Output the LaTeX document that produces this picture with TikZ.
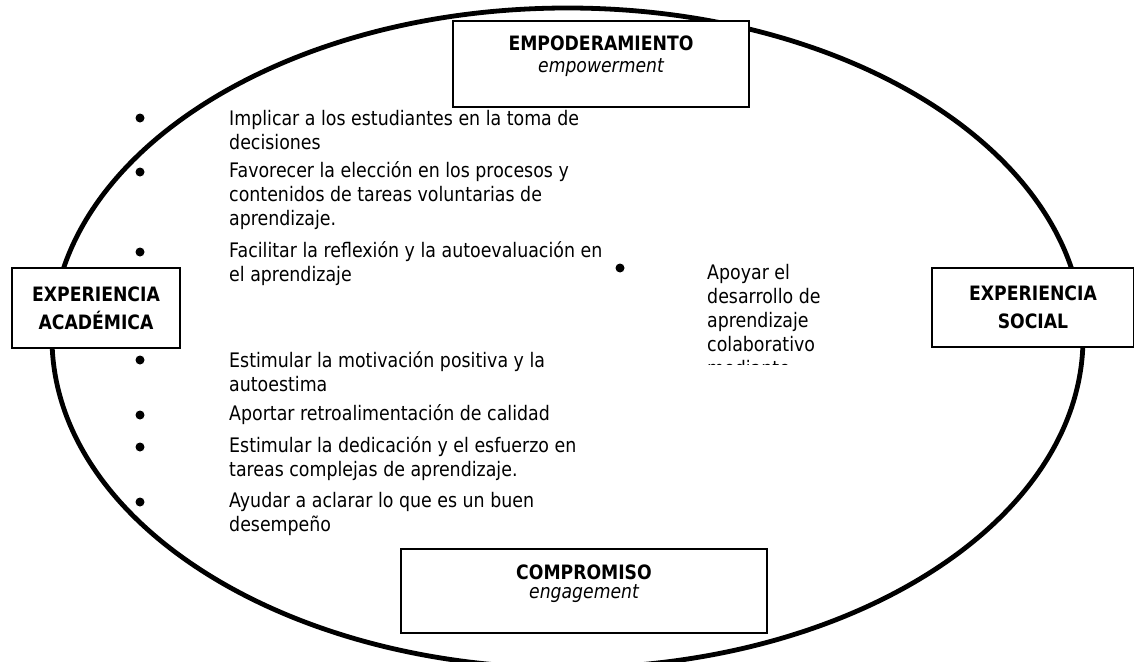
\documentclass[tikz,border=0pt]{standalone}
\usepackage{fontspec}
\setmainfont{DejaVu Sans}[FakeStretch=0.87]
\begin{document}
\begin{tikzpicture}[x=1pt,y=-1pt,
  txt/.style={inner sep=0pt,anchor=west,align=left,font=\fontsize{20}{24}\selectfont},
  title/.style={draw,line width=1.8pt,fill=white,inner sep=0pt,align=center,font=\fontsize{19.8}{28}\selectfont\bfseries},
  labb/.style={inner sep=0pt,font=\fontsize{19.8}{24}\selectfont\bfseries},
  labi/.style={inner sep=0pt,font=\fontsize{19.8}{24}\selectfont\itshape},
  bul/.style={circle,fill=black,inner sep=0pt,minimum size=9pt}]
\useasboundingbox (0,0) rectangle (1134,661);
\draw[line width=4.8pt] (567.5,338) ellipse [x radius=515.5, y radius=330];
% boxes
\node (emp) [title,minimum width=296pt,minimum height=86pt] at (601,64) {};
\node[labb] (empt) at (601,43) {EMPODERAMIENTO};
\node[labi] (empi) at (601,68) {empowerment};
\node (com) [title,minimum width=366pt,minimum height=84pt] at (584,591) {};
\node[labb] (comt) at (584,572) {COMPROMISO};
\node[labi] (comi) at (584,594) {engagement};
\node (aca) [title,minimum width=168pt,minimum height=80pt] at (96,308) {EXPERIENCIA\\ACADÉMICA};
\node (soc) [title,minimum width=202pt,minimum height=79pt] at (1033,307.5) {EXPERIENCIA\\SOCIAL};
% upper list
\node[bul] (b1) at (140,118) {};
\node[txt] (t1) at (229,130) {Implicar a los estudiantes en la toma de\\decisiones};
\node[bul] (b2) at (140,172) {};
\node[txt] (t2) at (229,196) {Favorecer la elección en los procesos y\\contenidos de tareas voluntarias de\\aprendizaje.};
\node[bul] (b3) at (140,252) {};
\node[txt] (t3) at (229,264) {Facilitar la reflexión y la autoevaluación en\\el aprendizaje};
% lower list
\node[bul] (b4) at (140,360) {};
\node[txt] (t4) at (229,372) {Estimular la motivación positiva y la\\autoestima};
\node[bul] (b5) at (140,415) {};
\node[txt] (t5) at (229,415) {Aportar retroalimentación de calidad};
\node[bul] (b6) at (140,447) {};
\node[txt] (t6) at (229,459) {Estimular la dedicación y el esfuerzo en\\tareas complejas de aprendizaje.};
\node[bul] (b7) at (140,502) {};
\node[txt] (t7) at (229,514) {Ayudar a aclarar lo que es un buen\\desempeño};
% right list (clipped)
\node[bul] (b8) at (620,268) {};
\begin{scope}
\clip (690,250) rectangle (880,364);
\node[txt] (t8) at (707,320) {Apoyar el\\desarrollo de\\aprendizaje\\colaborativo\\mediante};
\end{scope}
\end{tikzpicture}
\end{document}
